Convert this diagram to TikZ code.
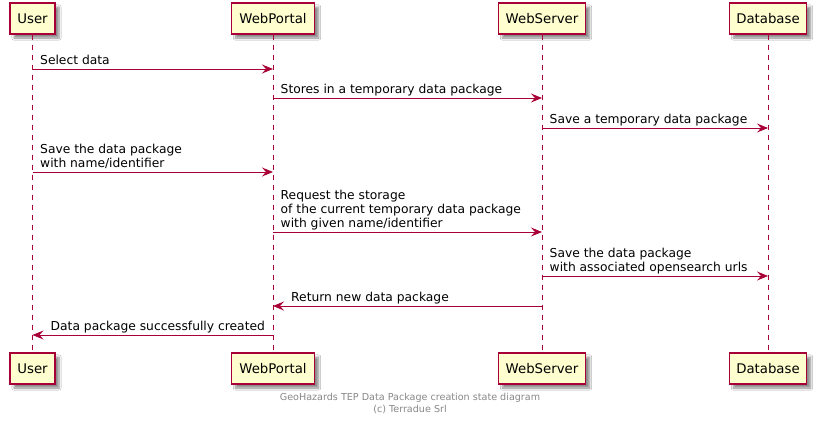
\documentclass[tikz,border=0pt]{standalone}
\usepackage{fontspec}
\setmainfont{DejaVu Sans}
\usetikzlibrary{arrows.meta,shadows.blur}
\definecolor{pumlred}{HTML}{A80036}
\definecolor{pumlfill}{HTML}{FEFECE}
\definecolor{footgray}{HTML}{888888}
\begin{document}
\begin{tikzpicture}[x=1pt,y=-1pt,
  part/.style={draw=pumlred, line width=1.4pt, fill=pumlfill, minimum height=31pt, inner sep=0pt,
    font=\fontsize{13.3}{15}\selectfont,
    blur shadow={shadow xshift=4pt, shadow yshift=-4pt, shadow blur steps=6, shadow opacity=45}},
  life/.style={draw=pumlred, line width=0.9pt, dash pattern=on 5pt off 5pt},
  msg/.style={draw=pumlred, line width=1pt, -{Stealth[length=11pt,width=9pt,inset=4pt]}},
  lbl/.style={anchor=base west, inner sep=0pt, font=\fontsize{12.3}{14}\selectfont},
  foot/.style={anchor=base, inner sep=0pt, text=footgray, font=\fontsize{9.6}{11}\selectfont}]
\useasboundingbox[fill=white] (0,0) rectangle (816,426);

% participants
\node[part, minimum width=45pt] (uT) at (32.5,18.5) {User};
\node[part, minimum width=83pt] (pT) at (273,18.5) {WebPortal};
\node[part, minimum width=87pt] (sT) at (542,18.5) {WebServer};
\node[part, minimum width=77pt] (dT) at (768,18.5) {Database};
\node[part, minimum width=45pt] (uB) at (32.5,368.5) {User};
\node[part, minimum width=83pt] (pB) at (273,368.5) {WebPortal};
\node[part, minimum width=87pt] (sB) at (542,368.5) {WebServer};
\node[part, minimum width=77pt] (dB) at (768,368.5) {Database};

% lifelines
\draw[life] (uT) -- (uB);
\draw[life] (pT) -- (pB);
\draw[life] (sT) -- (sB);
\draw[life] (dT) -- (dB);

% message end points
\coordinate (m1a) at (32.5,69);  \coordinate (m1b) at (273,69);
\coordinate (m2a) at (273,98);   \coordinate (m2b) at (542,98);
\coordinate (m3a) at (542,128);  \coordinate (m3b) at (768,128);
\coordinate (m4a) at (32.5,172); \coordinate (m4b) at (273,172);
\coordinate (m5a) at (273,232);  \coordinate (m5b) at (542,232);
\coordinate (m6a) at (542,276);  \coordinate (m6b) at (768,276);
\coordinate (m7a) at (542,306);  \coordinate (m7b) at (273,306);
\coordinate (m8a) at (273,335);  \coordinate (m8b) at (32.5,335);

\draw[msg] (m1a) -- (m1b);
\draw[msg] (m2a) -- (m2b);
\draw[msg] (m3a) -- (m3b);
\draw[msg] (m4a) -- (m4b);
\draw[msg] (m5a) -- (m5b);
\draw[msg] (m6a) -- (m6b);
\draw[msg] (m7a) -- (m7b);
\draw[msg] (m8a) -- (m8b);

% labels
\node[lbl] (l1) at (40,64.5) {Select data};
\node[lbl] (l2) at (280.5,93.5) {Stores in a temporary data package};
\node[lbl] (l3) at (549.5,123.5) {Save a temporary data package};
\node[lbl] (l4) at (40,167.5) {\begin{tabular}[b]{@{}l@{}}Save the data package\\with name/identifier\end{tabular}};
\node[lbl] (l5) at (280.5,227.5) {\begin{tabular}[b]{@{}l@{}}Request the storage\\of the current temporary data package\\with given name/identifier\end{tabular}};
\node[lbl] (l6) at (549.5,271.5) {\begin{tabular}[b]{@{}l@{}}Save the data package\\with associated opensearch urls\end{tabular}};
\node[lbl] (l7) at (291,301.5) {Return new data package};
\node[lbl] (l8) at (50.5,330.5) {Data package successfully created};

% footer
\node[foot] (f1) at (410,400.5) {GeoHazards TEP Data Package creation state diagram};
\node[foot] (f2) at (410,412.5) {(c) Terradue Srl};
\end{tikzpicture}
\end{document}
